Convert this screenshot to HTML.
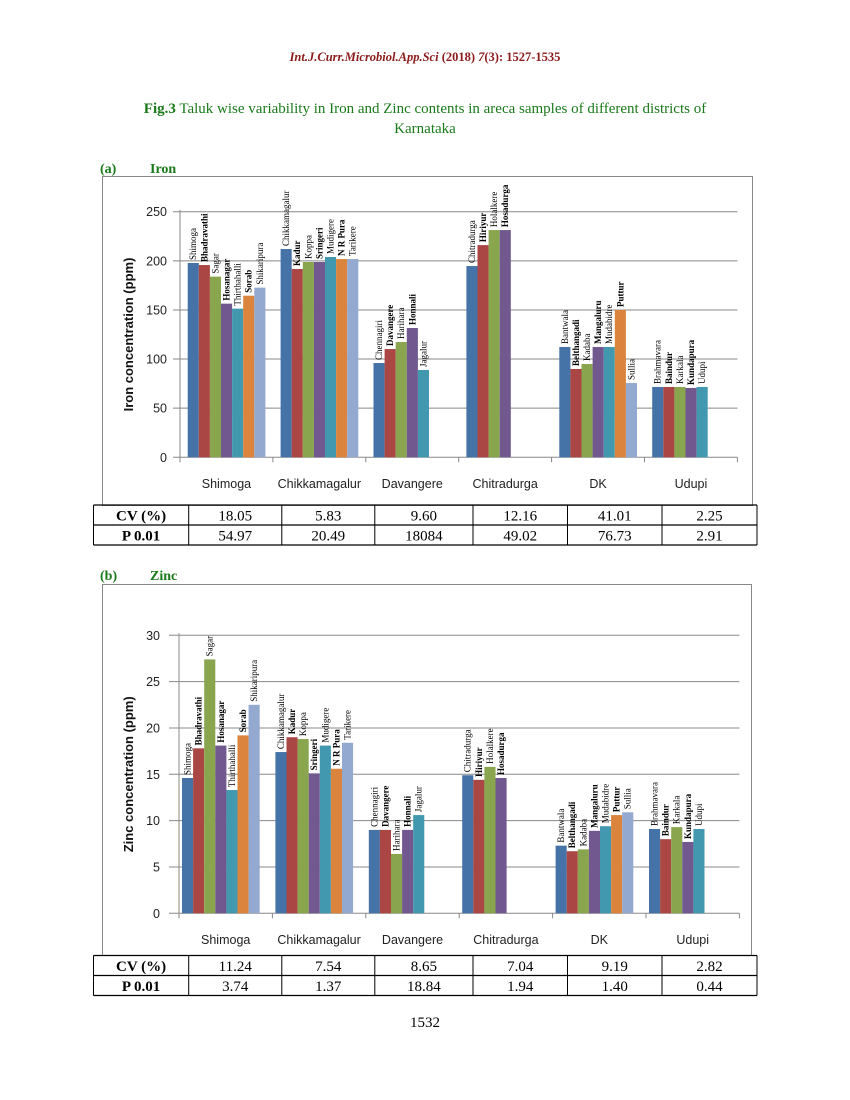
<!DOCTYPE html>
<html><head><meta charset="utf-8"><style>
html,body{margin:0;padding:0;background:#fff;}
svg{display:block;}
.ser{font-family:"Liberation Serif",serif;}
.san{font-family:"Liberation Sans",sans-serif;}
</style></head><body>
<svg id="page" width="850" height="1100" viewBox="0 0 850 1100" xmlns="http://www.w3.org/2000/svg">
<text x="425" y="61" text-anchor="middle" class="ser" font-size="12.5" font-weight="bold" font-style="italic" fill="#8B1A1A">Int.J.Curr.Microbiol.App.Sci <tspan font-style="normal">(2018)</tspan> 7<tspan font-style="normal">(3): 1527-1535</tspan></text>
<text x="425" y="113" text-anchor="middle" class="ser" font-size="15" fill="#1a7a1a"><tspan font-weight="bold">Fig.3</tspan> Taluk wise variability in Iron and Zinc contents in areca samples of different districts of</text>
<text x="425" y="133" text-anchor="middle" class="ser" font-size="15" fill="#1a7a1a">Karnataka</text>
<text x="100" y="173" class="ser" font-size="14" font-weight="bold" fill="#1a7a1a">(a)</text>
<text x="150" y="173" class="ser" font-size="14" font-weight="bold" fill="#1a7a1a">Iron</text>
<text x="100" y="580" class="ser" font-size="14" font-weight="bold" fill="#1a7a1a">(b)</text>
<text x="150" y="580" class="ser" font-size="14" font-weight="bold" fill="#1a7a1a">Zinc</text>
<rect x="102.5" y="176.5" width="650" height="329" fill="none" stroke="#888" stroke-width="1"/>
<rect x="102.5" y="584.5" width="649" height="371" fill="none" stroke="#888" stroke-width="1"/>
<g id="iron"></g>
<g id="zinc"></g>
<g id="ironTable"></g>
<g id="zincTable"></g>
<text x="425" y="1027" text-anchor="middle" class="ser" font-size="15" fill="#000">1532</text>
</svg>
<script>
const districts = ["Shimoga","Chikkamagalur","Davangere","Chitradurga","DK","Udupi"];
const taluks = [
 ["Shimoga","Bhadravathi","Sagar","Hosanagar","Thirthahalli","Sorab","Shikaripura"],
 ["Chikkamagalur","Kadur","Koppa","Sringeri","Mudigere","N R Pura","Tarikere"],
 ["Chennagiri","Davangere","Harihara","Honnali","Jagalur"],
 ["Chitradurga","Hiriyur","Holalkere","Hosadurga"],
 ["Bantwala","Belthangadi","Kadaba","Mangaluru","Mudabidre","Puttur","Sullia"],
 ["Brahmavara","Baindur","Karkala","Kundapura","Udupi"]
];
const ironValues = [
 [197.8,195.7,183.9,156.4,151.3,164.5,172.7],
 [212,191.7,198.8,198.8,203.9,201.8,201.8],
 [96,110.2,117.4,131.6,88.9],
 [194.7,216,231.3,231.3],
 [112.3,89.9,95,112.3,112.3,150,75.6],
 [71.6,71.6,71.6,70.6,71.6]
];
const zincValues = [
 [14.6,17.8,27.4,18.1,13.3,19.2,22.5],
 [17.4,19.0,18.8,15.1,18.1,15.6,18.4],
 [9.0,9.0,6.4,9.0,10.6],
 [14.9,14.4,15.8,14.6],
 [7.3,6.7,6.9,8.9,9.4,10.6,10.9],
 [9.1,8.0,9.3,7.7,9.1]
];
const ironTicks = [0,50,100,150,200,250];
const zincTicks = [0,5,10,15,20,25,30];
const ironCV = ["18.05","5.83","9.60","12.16","41.01","2.25"];
const ironP = ["54.97","20.49","18084","49.02","76.73","2.91"];
const zincCV = ["11.24","7.54","8.65","7.04","9.19","2.82"];
const zincP = ["3.74","1.37","18.84","1.94","1.40","0.44"];

const colors = ["#4572A7","#AA4643","#89A54E","#71588F","#4198AF","#DB843D","#93A9CF"];
const NS = "http://www.w3.org/2000/svg";
function mk(parent, tag, attrs){
  const e = document.createElementNS(NS, tag);
  for (const k in attrs) e.setAttribute(k, attrs[k]);
  parent.appendChild(e); return e;
}
function drawChart(g, cfg, values, ticks, key){
  const y = v => cfg.y0 - (v - 0) / (ticks[ticks.length-1]) * (cfg.y0 - cfg.yTop);
  ticks.forEach((t) => {
    const ln = mk(g, "line", {x1: cfg.gridX0, x2: cfg.x0 + cfg.gw*6, y1: y(t), y2: y(t), stroke: t===0 ? "#888" : "#888", "stroke-width": 1});
    
    
    const tx = mk(g, "text", {x: cfg.tickX, y: y(t) + 4.5, "text-anchor": "end", "font-size": 12.5, fill: "#222", "class": "san"});
    tx.textContent = t;
    
    
  });
  const ax = mk(g, "line", {x1: cfg.x0, x2: cfg.x0, y1: cfg.yTop-2, y2: cfg.y0+5, stroke: "#888"});
  
  
  for (let i=0;i<=6;i++){
    const tk = mk(g, "line", {x1: cfg.x0+i*cfg.gw, x2: cfg.x0+i*cfg.gw, y1: cfg.y0, y2: cfg.y0+5, stroke: "#888"});
    
    
  }
  districts.forEach((d, i) => {
    const lab = mk(g, "text", {x: cfg.x0 + i*cfg.gw + cfg.gw/2, y: cfg.catY, "text-anchor": "middle", "font-size": 12.5, fill: "#222", "class": "san"});
    lab.textContent = d;
    
    
    values[i].forEach((v, j) => {
      const bx = cfg.x0 + i*cfg.gw + cfg.off + j*cfg.bw;
      const r = mk(g, "rect", {x: bx, y: y(v), width: cfg.bw, height: cfg.y0 - y(v), fill: colors[j]});
      
      
      const tx = bx + cfg.bw/2 + 3;
      const ty = y(v) - 3;
      const t = mk(g, "text", {x: tx, y: ty, transform: "rotate(-90 " + tx + " " + ty + ")", "font-size": 9, "class": "ser", fill: "#000", "font-weight": (j%2===0 ? "normal" : "bold")});
      t.textContent = taluks[i][j];
      
      
    });
  });
  const at = mk(g, "text", {x: cfg.titleX, y: (cfg.y0+cfg.yTop)/2, transform: "rotate(-90 " + cfg.titleX + " " + ((cfg.y0+cfg.yTop)/2) + ")", "text-anchor": "middle", "font-size": 13, "font-weight": "bold", fill: "#111", "class": "san"});
  at.textContent = cfg.title;
  
  
}
drawChart(document.getElementById("iron"),
  {x0:180, gw:92.9, off:7.7, bw:11.1, y0:457.3, yTop:211.7, gridX0:173, tickX:167, catY:488, titleX:133, title:"Iron concentration (ppm)"},
  ironValues, ironTicks, "iron");
drawChart(document.getElementById("zinc"),
  {x0:179, gw:93.4, off:3, bw:11.1, y0:913.3, yTop:635.3, gridX0:169, tickX:160, catY:944, titleX:133, title:"Zinc concentration (ppm)"},
  zincValues, zincTicks, "zinc");

function drawTable(g, top, cv, p, key){
  const cols = [93.5,188.7,281.8,374.8,473,567.5,662,757];
  const rows = [top, top+20, top+40];
  rows.forEach(ry => { const l = mk(g,"line",{x1:cols[0],x2:cols[7],y1:ry,y2:ry,stroke:"#000","stroke-width":1.3});
      });
  cols.forEach(cx => { const l = mk(g,"line",{x1:cx,x2:cx,y1:top,y2:top+40,stroke:"#000","stroke-width":1});
      });
  const heads = ["CV (%)","P 0.01"];
  [cv,p].forEach((arr, r) => {
    const h = mk(g,"text",{x:(cols[0]+cols[1])/2, y: top + r*20 + 15.5, "text-anchor":"middle","font-size":15,"font-weight":"bold","class":"ser"});
    h.textContent = heads[r];
    
    
    arr.forEach((s, i) => {
      const t = mk(g,"text",{x:(cols[i+1]+cols[i+2])/2, y: top + r*20 + 15.5, "text-anchor":"middle","font-size":15,"class":"ser"});
      t.textContent = s;
      
      
    });
  });
}
drawTable(document.getElementById("ironTable"), 505, ironCV, ironP, "iron-table");
drawTable(document.getElementById("zincTable"), 955.5, zincCV, zincP, "zinc-table");
</script>
</body></html>
